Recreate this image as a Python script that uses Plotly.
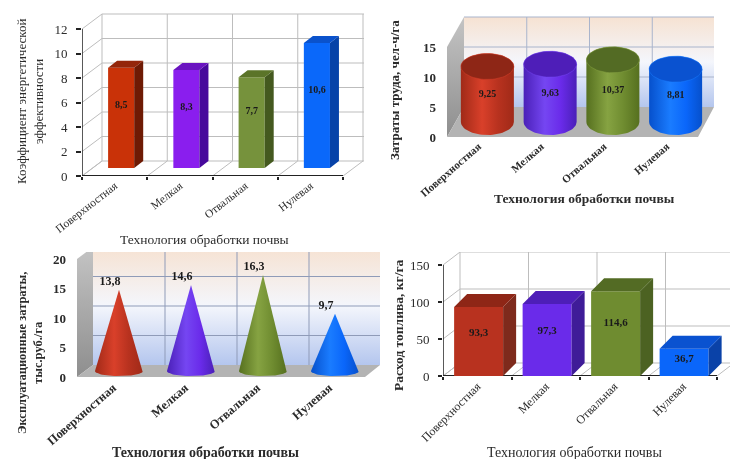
import numpy as np
import plotly.graph_objects as go

W, H = 730, 459
categories = ["Поверхностная", "Мелкая", "Отвальная", "Нулевая"]
energy_eff = [8.5, 8.3, 7.7, 10.6]
labor = [9.25, 9.63, 10.37, 8.81]
oper_cost = [13.8, 14.6, 16.3, 9.7]
fuel = [93.3, 97.3, 114.6, 36.7]
labels_energy = ["8,5", "8,3", "7,7", "10,6"]
labels_labor = ["9,25", "9,63", "10,37", "8,81"]
labels_cost = ["13,8", "14,6", "16,3", "9,7"]
labels_fuel = ["93,3", "97,3", "114,6", "36,7"]
ticks_energy = [0, 2, 4, 6, 8, 10, 12]
ticks_labor = [0, 5, 10, 15]
ticks_cost = [0, 5, 10, 15, 20]
ticks_fuel = [0, 50, 100, 150]

FRONT = ["#C93208", "#8A1EEE", "#76923C", "#0A68FA"]
SIDE = ["#6E1A04", "#47099C", "#44591F", "#0743A8"]
TOP = ["#94260A", "#6A14C0", "#5B7428", "#0A52CC"]
F4 = ["#B8321F", "#6A2BEA", "#6F8C30", "#0A66FA"]
S4 = ["#7E2A1C", "#3F1C98", "#4C6222", "#0A42A8"]
T4 = ["#8E2616", "#4E1EB8", "#536B24", "#0A52D0"]
BRIGHT = ["#D9402A", "#7546F2", "#86A342", "#1A7CFF"]
DARK = ["#A02A18", "#4A20B8", "#56701F", "#0650CC"]
SERIF = "Liberation Serif"
TXT = "#2B2B2B"
GRID = "#BDBDBD"

fig = go.Figure()


def px_x(p):
    return p / W


def px_y(p):
    return 1 - p / H


def make_panel(n, x0, cat, dx, dy, y0, scale, top_px, right_px, ticks, angle, weight, cat_size, tick_size,
               standoff, ticklen, dark_axis):
    xa, ya = f"xaxis{n}", f"yaxis{n}"
    layout = {
        xa: dict(domain=[px_x(x0), px_x(right_px)], range=[0, (right_px - x0) / cat],
                 anchor=f"y{n}", showgrid=False, zeroline=False, showline=False,
                 tickmode="array", tickvals=[i + .5 for i in range(4)], ticktext=categories,
                 tickangle=angle, ticks="",
                 tickfont=dict(family=SERIF, size=cat_size, color=TXT, weight=weight),
                 automargin=False),
        ya: dict(domain=[px_y(y0), px_y(top_px)], range=[0, (y0 - top_px) / scale],
                 anchor=f"x{n}", showgrid=False, zeroline=False, showline=False,
                 tickmode="array", tickvals=ticks, ticks="outside" if dark_axis else "",
                 ticklen=ticklen, tickwidth=1.5, tickcolor="#222",
                 ticklabelstandoff=standoff,
                 tickfont=dict(family=SERIF, size=tick_size, color=TXT, weight=weight), automargin=False),
    }
    if dark_axis:
        layout[xa]["minor"] = dict(tickmode="array", tickvals=[0, 1, 2, 3, 4], ticks="outside",
                                   ticklen=3, tickcolor="#222", tickwidth=1.5, showgrid=False)
    fig.update_layout(**layout)
    return f"x{n}", f"y{n}", dx / cat, dy / scale


def poly(x, y, xa, ya, color=None, grad=None, line=None):
    kw = dict(x=x, y=y, xaxis=xa, yaxis=ya, mode="lines", fill="toself", showlegend=False,
              hoverinfo="skip", line=dict(width=0.5 if line else 0, color=line or "rgba(0,0,0,0)"))
    if grad:
        kw["fillgradient"] = grad
    else:
        kw["fillcolor"] = color
    fig.add_trace(go.Scatter(**kw))


def seg(x, y, xa, ya, color=GRID, width=1):
    fig.add_trace(go.Scatter(x=x, y=y, xaxis=xa, yaxis=ya, mode="lines", showlegend=False,
                             hoverinfo="skip", line=dict(color=color, width=width)))


def wall_grid(xa, ya, ox, oy, ticks, xmax):
    top = ticks[-1]
    for t in ticks:
        seg([0, ox, xmax], [t, t + oy, t + oy], xa, ya)
    for i in range(5):
        seg([i + ox, i + ox], [oy, top + oy], xa, ya)
        seg([i, i + ox], [0, oy], xa, ya)


def note(text, x, y, size, bold=False, angle=0, color=TXT):
    fig.add_annotation(text=f"<b>{text}</b>" if bold else text, x=px_x(x), y=px_y(y), xref="paper",
                       yref="paper", showarrow=False, textangle=angle, xanchor="center", yanchor="middle",
                       font=dict(family=SERIF, size=size, color=color), align="center")


def overlay(n, base, y0, scale, top_px):
    fig.update_layout(**{f"yaxis{n}": dict(domain=[px_y(y0), px_y(top_px)], visible=False,
                                           overlaying=f"y{base}", anchor=f"x{base}",
                                           range=[0, (y0 - top_px) / scale])})


def box_bars(values, labels, xa, ya, centers, width, ox, oy, base, fc, sc, tc, size):
    fig.add_trace(go.Bar(x=centers, y=values, base=[base] * 4, width=width, xaxis=xa, yaxis=ya,
                         marker=dict(color=fc, line=dict(width=0)), showlegend=False, hoverinfo="skip"))
    for i, v in enumerate(values):
        l, r, t = centers[i] - width / 2, centers[i] + width / 2, base + v
        poly([r, r + ox, r + ox, r, r], [base, base + oy, t + oy, t, base], xa, ya, sc[i])
        poly([l, l + ox, r + ox, r, l], [t, t + oy, t + oy, t, t], xa, ya, tc[i])
    fig.add_trace(go.Scatter(x=centers, y=[base + v * .62 for v in values], text=labels, mode="text",
                             xaxis=xa, yaxis=ya, showlegend=False, hoverinfo="skip",
                             textfont=dict(family=SERIF, size=size, color="#1a1a1a", weight="bold")))


th = np.linspace(0, np.pi, 40)
wallg = dict(type="vertical", colorscale=[[0, "#B4C6EE"], [.5, "#F4F6FC"], [1, "#F6E2D2"]])
sideg = dict(type="vertical", colorscale=[[0, "#8E8E8E"], [1, "#C4C4C4"]])

# Panel 1: boxes on a white wall
xa, ya, ox, oy = make_panel(1, 82, 65.25, 20, 15, 176, 12.25, 12, 364, ticks_energy, -38, "normal", 11.5, 13, 6, 5, True)
wall_grid(xa, ya, ox, oy, ticks_energy, (364 - 82) / 65.25)
seg([0, 0], [0, 12], xa, ya, "#222", 1.5)
seg([0, 4], [0, 0], xa, ya, "#222", 2)
overlay(5, 1, 176, 11.8, 12)
box_bars(energy_eff, labels_energy, xa, "y5", [i + .6 for i in range(4)], 0.4, 9 / 65.25, 7 / 11.8, 8 / 11.8,
         FRONT, SIDE, TOP, 10)
note("Коэффициент энергетической<br>эффективности", 30, 102, 13, angle=-90)
note("Технология обработки почвы", 204, 239, 13.5)

# Panel 2: cylinders on a gradient wall
x0, cat, y0, sc2 = 447, 62.75, 137, 6.0
xa, ya, ox, oy = make_panel(2, x0, cat, 17, 30, y0, sc2, 15, 714, ticks_labor, -41, "bold", 11, 13, 10, 0, False)
xmax = (714 - x0) / cat
poly([ox, xmax, xmax, ox, ox], [oy, oy, 15 + oy, 15 + oy, oy], xa, ya, grad=wallg)
poly([0, ox, ox, 0, 0], [0, oy, 15 + oy, 15, 0], xa, ya, grad=sideg)
poly([0, ox, xmax, 4, 0], [0, oy, oy, 0, 0], xa, ya, "#B3B3B3")
for t in ticks_labor[1:]:
    seg([ox, xmax], [t + oy, t + oy], xa, ya, "#A9B4CC")
for i in range(1, 4):
    seg([i + ox, i + ox], [oy, 15 + oy], xa, ya, "#A9B4CC")
hw, ry, b = 26.5 / cat, 13 / sc2, 2.5
t2 = np.linspace(0, 2 * np.pi, 60)
for i, v in enumerate(labor):
    c = i + .5 + 9 / cat
    bx = np.r_[c + hw * np.cos(th), c - hw * np.cos(th)]
    by = np.r_[b - ry * np.sin(th), b + v + ry * np.sin(th)]
    grad = dict(type="horizontal", colorscale=[[0, DARK[i]], [.4, BRIGHT[i]], [.7, F4[i]], [1, DARK[i]]])
    poly(list(bx), list(by), xa, ya, grad=grad)
    poly(list(c + hw * np.cos(t2)), list(b + v + ry * np.sin(t2)), xa, ya, T4[i], line=BRIGHT[i])
fig.add_trace(go.Scatter(x=[i + .5 + 9 / cat for i in range(4)], y=[b + v * .5 for v in labor],
                         text=labels_labor, mode="text", xaxis=xa, yaxis=ya, showlegend=False,
                         hoverinfo="skip", textfont=dict(family=SERIF, size=10, color="#1a1a1a", weight="bold")))
note("Затраты труда, чел-ч/га", 395, 90, 13, bold=True, angle=-90)
note("Технология обработки почвы", 584, 198, 13.5, bold=True)

# Panel 3: cones on a gradient wall
x0, cat, y0, sc3 = 77, 72, 377, 5.9
xa, ya, ox, oy = make_panel(3, x0, cat, 16, 12, y0, sc3, 252, 380, ticks_cost, -41, "bold", 12.5, 13, 10, 0, False)
xmax = (380 - x0) / cat
poly([ox, xmax, xmax, ox, ox], [oy, oy, 20 + oy, 20 + oy, oy], xa, ya, grad=wallg)
poly([0, ox, ox, 0, 0], [0, oy, 20 + oy, 20, 0], xa, ya, grad=sideg)
poly([0, ox, xmax, 4, 0], [0, oy, oy, 0, 0], xa, ya, "#B3B3B3")
for t in ticks_cost[1:]:
    seg([ox, xmax], [t + oy, t + oy], xa, ya, "#8F9BB8")
for i in range(1, 4):
    seg([i + ox, i + ox], [oy, 20 + oy], xa, ya, "#8F9BB8")
hw, ry, b = 24 / cat, 5 / sc3, 1.0
for i, v in enumerate(oper_cost):
    c = i + .5 + 6 / cat
    cx = np.r_[c, c + hw * np.cos(th), c]
    cy = np.r_[b + v, b - ry * np.sin(th), b + v]
    grad = dict(type="horizontal", colorscale=[[0, DARK[i]], [.4, BRIGHT[i]], [.7, F4[i]], [1, DARK[i]]])
    poly(list(cx), list(cy), xa, ya, grad=grad)
fig.add_trace(go.Scatter(x=[i + .5 - 3 / cat for i in range(4)], y=[b + v + 1.3 for v in oper_cost],
                         text=labels_cost, mode="text", xaxis=xa, yaxis=ya, showlegend=False,
                         hoverinfo="skip", textfont=dict(family=SERIF, size=12, color="#1a1a1a", weight="bold")))
note("Эксплуатационные затраты,<br>тыс.руб./га", 30, 353, 12.5, bold=True, angle=-90)
note("Технология обработки почвы", 205, 452, 14, bold=True)

# Panel 4: deep boxes on a white wall
x0, cat, y0, sc4 = 443, 68.5, 376, 0.74
xa, ya, ox, oy = make_panel(4, x0, cat, 17, 13, y0, sc4, 252, 730, ticks_fuel, -45, "normal", 12, 13, 6, 4, True)
xmax = (730 - x0) / cat
wall_grid(xa, ya, ox, oy, ticks_fuel, xmax)
seg([0, 0], [0, 150], xa, ya, "#222", 1.5)
seg([0, 4], [0, 0], xa, ya, "#222", 2)
overlay(6, 4, y0, sc4, 252)
box_bars(fuel, labels_fuel, xa, "y6", [i + .52 for i in range(4)], 49 / cat, 13 / cat, 13 / sc4, 0, F4, S4, T4, 11)
note("Расход топлива, кг/га", 398, 325, 13.5, bold=True, angle=-90)
note("Технология обработки почвы", 574, 452, 14)

fig.update_layout(width=W, height=H, margin=dict(l=0, r=0, t=0, b=0), plot_bgcolor="rgba(0,0,0,0)",
                  paper_bgcolor="white", showlegend=False, barmode="overlay")
fig.write_html("out.html", config={"displayModeBar": False},
               post_script="document.body.style.margin='0';document.body.style.overflow='hidden';document.body.style.filter='blur(0.7px)';")
